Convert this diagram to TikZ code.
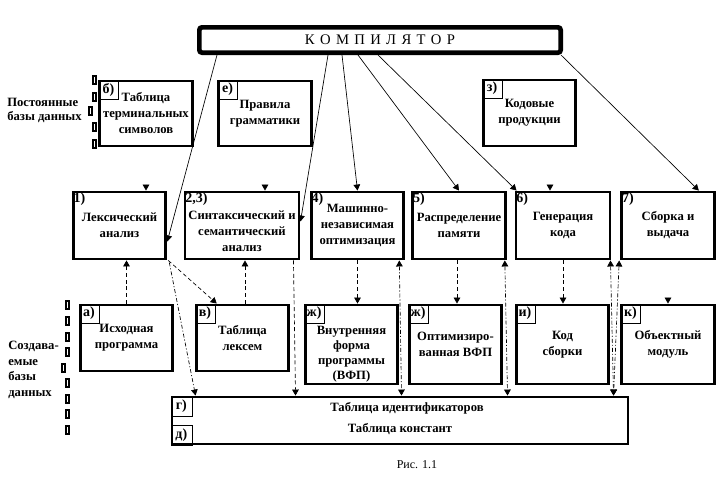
\documentclass[tikz,border=0pt]{standalone}
\usepackage{fontspec}
\setmainfont{Liberation Serif}
\usetikzlibrary{arrows.meta,calc,positioning}
\tikzstyle{txt} = [align=center, inner sep=0pt, font=\fontsize{9.5}{12}\selectfont\bfseries]
\tikzstyle{blok} = [txt, draw, line width=2.2pt, inner sep=1pt, minimum width=69.5pt, minimum height=50.25pt]
\tikzstyle{tag} = [draw, line width=0.5pt, inner sep=0pt, minimum width=15pt, minimum height=14.5pt, anchor=north west, font=\fontsize{10.5}{11}\selectfont\bfseries]
\tikzstyle{num} = [inner sep=1.2pt, anchor=north west, font=\fontsize{10.5}{11}\selectfont\bfseries]
\tikzstyle{arrow} = [line width=0.5pt, ->, >={Triangle[length=4.5pt,width=5pt]}]
\tikzstyle{darrow} = [arrow, dash pattern=on 3pt off 2pt]
\tikzstyle{dotarrow} = [arrow, dash pattern=on 3pt off 1.5pt on 0.8pt off 1.5pt]
\tikzstyle{ddarrow} = [dotarrow, <->]
\tikzstyle{tofu} = [line width=0.9pt]

\begin{document}
\begin{tikzpicture}[x=0.75pt,y=-0.75pt]
\useasboundingbox (0,0) rectangle (722,483);
% компилятор
\node (comp) at (380,40) [draw, line width=3.5pt, rounded corners=2pt, minimum width=271pt, minimum height=19pt, font=\fontsize{11}{12}\selectfont] {\spaceskip=4pt К О М П И Л Я Т О Р};
% постоянные базы данных
\node (pb) at (7,110) [anchor=west, align=left, inner sep=0pt, font=\fontsize{9.5}{10.5}\selectfont\bfseries] {Постоянные\\базы данных};
\foreach \y in {76,93,123,140} \draw[tofu] (93,\y) rectangle +(3,8);
\draw[tofu] (89,107) rectangle +(3,8);
\node (tb) at (146,113.5) [blok, minimum height=48.75pt] {Таблица\\терминальных\\символов};
\node (te) at (265,113.5) [blok, minimum height=48.75pt] {Правила\\грамматики};
\node (tz) at (529.5,113) [blok, minimum height=49.5pt] {Кодовые\\продукции};
\node [tag] at (tb.north west) {б)};
\node [tag] at (te.north west) {е)};
\node [tag] at (tz.north west) {з)};
% этапы
\node (s1) at (119.5,225.5) [blok] {Лексический\\анализ};
\node (s23) at (242,225.5) [blok, minimum width=85.5pt] {};
\node (s23t) at ($(s23.center)+(0,6)$) [txt] {Синтаксический и\\семантический\\анализ};
\node (s4) at (357.5,225.5) [blok] {Машинно-\\независимая\\оптимизация};
\node (s5) at (459,225.5) [blok] {Распределение\\памяти};
\node (s6) at (563,225.5) [blok, minimum width=70.5pt] {Генерация\\кода};
\node (s7) at (668,225.5) [blok] {Сборка и\\выдача};
\node [num] at (s1.north west) {1)};
\node [num] at (s23.north west) {2,3)};
\node [num] at (s4.north west) {4)};
\node [num] at (s5.north west) {5)};
\node [num] at (s6.north west) {6)};
\node [num] at (s7.north west) {7)};
% создаваемые базы данных
\node (sb) at (8,370) [anchor=west, align=left, inner sep=0pt, font=\fontsize{9.5}{11.6}\selectfont\bfseries] {Создава-\\емые\\базы\\данных};
\foreach \y in {301,317,333,348,379,395,410,426} \draw[tofu] (66,\y) rectangle +(3,8);
\draw[tofu] (62,364) rectangle +(3,8);
\node (da) at (126.5,338) [blok, minimum height=49.5pt] {Исходная\\программа};
\node (dv) at (242.5,338) [blok, minimum height=49.5pt] {Таблица\\лексем};
\node (dzh) at (351.5,344.5) [blok, minimum height=59.25pt] {};
\node (dzht) at ($(dzh.center)+(0,9.5)$) [txt, font=\fontsize{9.5}{11.2}\selectfont\bfseries] {Внутренняя\\форма\\программы\\(ВФП)};
\node (dzh2) at (455.5,344.5) [blok, minimum height=59.25pt] {Оптимизиро-\\ванная ВФП};
\node (di) at (562.5,344.5) [blok, minimum height=59.25pt] {Код\\сборки};
\node (dk) at (668,344.5) [blok, minimum height=59.25pt] {Объектный\\модуль};
\node [tag] at (da.north west) {а)};
\node [tag] at (dv.north west) {в)};
\node [tag] at (dzh.north west) {ж)};
\node [tag] at (dzh2.north west) {ж)};
\node [tag] at (di.north west) {и)};
\node [tag] at (dk.north west) {к)};
\node (tab) at (400,420.5) [blok, minimum width=342pt, minimum height=35.25pt] {};
\node [tag, minimum width=15.75pt, minimum height=15pt] at (tab.north west) {г)};
\node [tag, minimum width=15.75pt, minimum height=15pt, anchor=south west] at (tab.south west) {д)};
\node (tid) at (407,408) [txt] {Таблица идентификаторов};
\node (tkon) at (400,429) [txt] {Таблица констант};
\node (fig) at (417,465) [inner sep=0pt, font=\fontsize{9}{11}\selectfont] {Рис. 1.1};
% связи компилятора
\draw[arrow] ($(comp.south west)+(20,0)$) -- ($(s1.south east)+(0,-19)$);
\draw[arrow] ($(comp.south west)+(131,0)$) -- ($(s23.east)+(0,-4)$);
\draw[arrow] ($(comp.south west)+(145,0)$) -- (s4.north);
\draw[arrow] ($(comp.south west)+(161,0)$) -- (s5.north);
\draw[arrow] ($(comp.south west)+(181,0)$) -- ($(s6.north west)+(2,0)$);
\draw[arrow] ($(comp.south east)+(-2,0)$) -- ($(s7.north east)+(-17,0)$);
% обращения к постоянным базам
\draw[arrow] ($(s1.north -| tb.south)+(0,-6)$) -- (s1.north -| tb.south);
\draw[arrow] ($(s23.north -| te.south)+(0,-6)$) -- (s23.north -| te.south);
\draw[arrow] ($(s6.north)+(-13,-6)$) -- ($(s6.north)+(-13,0)$);
\draw[arrow] ($(dk.north)+(0,-6)$) -- (dk.north);
% потоки данных
\draw[darrow] (da.north) -- (da.north |- s1.south);
\draw[darrow] ($(dv.north)+(2.5,0)$) -- ($(dv.north |- s23.south)+(2.5,0)$);
\draw[darrow] ($(s1.south east)+(1,0)$) -- ($(dv.north west)+(22,0)$);
\draw[dotarrow] ($(s1.south east)+(2,2)$) -- ($(tab.north west)+(25,0)$);
\draw[darrow] ($(s23.south east)+(-7,0)$) -- ($(tab.north west)+(125,0)$);
\draw[darrow] (s4.south) -- (s4.south |- dzh.north);
\draw[darrow] ($(s5.south)+(-2,0)$) -- ($(s5.south |- dzh2.north)+(-2,0)$);
\draw[darrow] (s6.south) -- (s6.south |- di.north);
\draw[ddarrow] ($(s4.south east)+(-6,0)$) -- ($(tab.north west)+(231,0)$);
\draw[ddarrow] ($(s5.south east)+(-2,0)$) -- ($(tab.north west)+(337,0)$);
\draw[ddarrow] ($(s6.south east)+(-1,0)$) -- ($(tab.north west)+(443,0)$);
\draw[ddarrow] ($(s7.south west)+(-1,0)$) -- ($(tab.north west)+(443,0)$);
\end{tikzpicture}
\end{document}
